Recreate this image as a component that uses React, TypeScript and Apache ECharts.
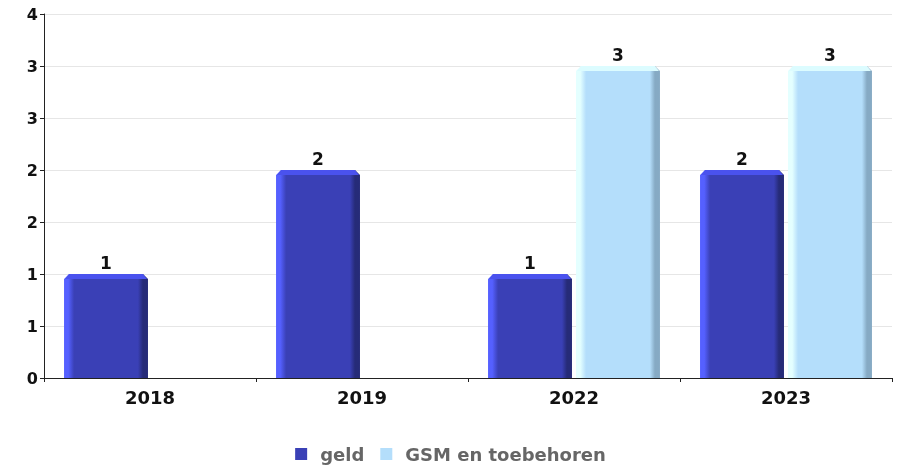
import React, { useEffect, useRef } from "react";
import * as echarts from "echarts";

const categories = ["2018", "2019", "2022", "2023"];
const geld = [1, 2, 1, 2];
const gsm = [0, 0, 3, 3];
const seriesNames = ["geld", "GSM en toebehoren"];

const palettes = [
  { main: "#3a40b6", light: "#5560ff", dark: "#262b78", top: "#4a52ee", legend: "#3a40b6" },
  { main: "#b4defb", light: "#e4ffff", dark: "#86aac4", top: "#dcfcff", legend: "#b4defb" },
];

const FONT = "DejaVu Sans";

function makeRender(idx: number) {
  const p = palettes[idx];
  return (params: any, api: any) => {
    const v = api.value(1);
    if (!v) return null;
    const cat = api.value(0);
    const base = api.coord([cat, 0]);
    const topPt = api.coord([cat, v]);
    const bw = api.size([1, 0])[0];
    const w = bw * 0.396;
    const off = bw * 0.2075 * (idx === 0 ? -1 : 1);
    const cx = base[0] + off;
    const x0 = cx - w / 2;
    const x1 = cx + w / 2;
    const yT = topPt[1];
    const yB = base[1];
    const b = 5;
    const grad = new echarts.graphic.LinearGradient(0, 0, 1, 0, [
      { offset: 0, color: p.light },
      { offset: 0.05, color: p.light },
      { offset: 0.12, color: p.main },
      { offset: 0.88, color: p.main },
      { offset: 0.94, color: p.dark },
      { offset: 1, color: p.dark },
    ]);
    return {
      type: "group",
      children: [
        {
          type: "polygon",
          shape: {
            points: [
              [x0, yB],
              [x0, yT + b],
              [x0 + b, yT],
              [x1 - b, yT],
              [x1, yT + b],
              [x1, yB],
            ],
          },
          style: { fill: grad },
        },
        {
          type: "polygon",
          shape: {
            points: [
              [x0 + 1, yT + b],
              [x0 + b, yT],
              [x1 - b, yT],
              [x1 - 1, yT + b],
            ],
          },
          style: { fill: p.top },
        },
        {
          type: "text",
          x: cx,
          y: yT - 3,
          style: {
            text: String(v),
            fill: "#111",
            font: `bold 17px "${FONT}"`,
            align: "center",
            verticalAlign: "bottom",
          },
        },
      ],
    };
  };
}

export default function App() {
  const ref = useRef<HTMLDivElement>(null);
  useEffect(() => {
    if (!ref.current) return;
    const chart = echarts.init(ref.current, null, { renderer: "svg" });
    const seriesData = [geld, gsm];
    chart.setOption({
      animation: false,
      grid: { left: 44, right: 9, top: 14, bottom: 89 },
      legend: {
        top: 444,
        left: "center",
        itemWidth: 12,
        itemHeight: 12,
        itemGap: 16,
        padding: 0,
        icon: "rect",
        textStyle: {
          color: "#666",
          fontWeight: "bold",
          fontSize: 18,
          lineHeight: 20,
          fontFamily: FONT,
          padding: [0, 0, 0, 8],
        },
        data: seriesNames.map((n, i) => ({ name: n, itemStyle: { color: palettes[i].legend } })),
      },
      xAxis: {
        type: "category",
        data: categories,
        axisLine: { lineStyle: { color: "#222", width: 1 } },
        axisTick: { show: true, length: 4, lineStyle: { color: "#222" } },
        axisLabel: { color: "#111", fontWeight: "bold", fontSize: 18, fontFamily: FONT, margin: 10 },
        splitLine: { show: false },
      },
      yAxis: {
        type: "value",
        min: 0,
        max: 3.5,
        interval: 0.5,
        axisLine: { show: true, lineStyle: { color: "#222", width: 1 } },
        axisTick: { show: true, length: 4, lineStyle: { color: "#222" } },
        axisLabel: {
          color: "#111",
          fontWeight: "bold",
          fontSize: 16,
          fontFamily: FONT,
          margin: 6,
          formatter: (v: number) => String(Math.round(v)),
        },
        splitLine: { show: true, lineStyle: { color: "#e6e6e6", width: 1 } },
      },
      series: seriesNames.map((name, i) => ({
        name,
        type: "custom",
        renderItem: makeRender(i),
        itemStyle: { color: palettes[i].legend },
        encode: { x: 0, y: 1 },
        data: seriesData[i].map((v, ci) => [ci, v]),
      })),
    });
    return () => chart.dispose();
  }, []);
  return (
    <div
      ref={ref}
      style={{ position: "fixed", left: 0, top: 0, width: 901, height: 467 }}
    />
  );
}
